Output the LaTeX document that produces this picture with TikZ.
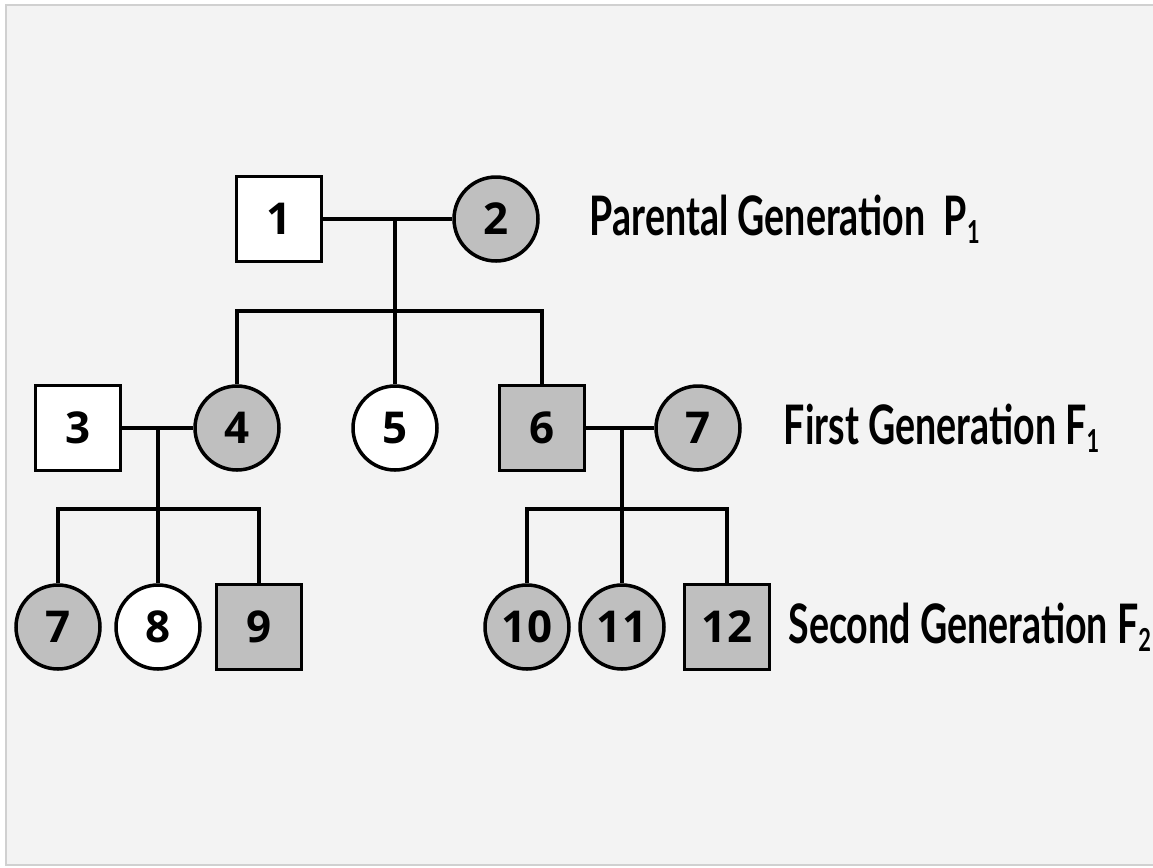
\documentclass[tikz,border=0pt]{standalone}
\usepackage{fontspec}
\setmainfont{Open Sans}
\newfontfamily\genfont[FakeStretch=0.69]{Lato}
\usetikzlibrary{positioning}
\definecolor{cfill}{HTML}{BFBFBF}
\definecolor{cpaper}{HTML}{F3F3F3}
\definecolor{cframe}{HTML}{D0D0D0}
\newcommand{\gensub}[1]{\raisebox{-0.3ex}{\fontsize{18}{18}\selectfont #1}}
\tikzset{
  every picture/.style={line width=2.5pt},
  male/.style={draw, rectangle, line width=2pt, fill=#1, minimum size=1.7cm, inner sep=0pt, font=\bfseries\fontsize{25}{25}\selectfont},
  male/.default=white,
  female/.style={draw, circle, line width=2pt, fill=#1, minimum size=1.68cm, inner sep=0pt, font=\bfseries\fontsize{25}{25}\selectfont},
  female/.default=white,
  gen/.style={font=\genfont\bfseries\fontsize{31}{31}\selectfont, inner sep=0pt, anchor=west},
}

\begin{document}
\begin{tikzpicture}[x=0.02cm, y=-0.02cm]
  \useasboundingbox (0,0) rectangle (1153,867);
  \fill[white] (0,0) rectangle (1153,867);
  \filldraw[fill=cpaper, draw=cframe, line width=1.2pt] (6,5) rectangle (1170,865);

  % parents
  \node[male] (p1) at (279,219) {1};
  \node[female=cfill] (p2) at (496,219) {2};
  \node[gen, right=0.96cm of p2] (lblp) {Parental Generation\ \ P\gensub{1}};

  % first generation
  \node[male] (m3) at (78,428) {3};
  \node[female=cfill] (f4) at (237,428) {4};
  \node[female] (f5) at (395,428) {5};
  \node[male=cfill] (m6) at (542,428) {6};
  \node[female=cfill] (f7) at (698,428) {7};
  \node[gen, right=0.8cm of f7] (lblf) {First Generation F\gensub{1}};

  % second generation
  \node[female=cfill] (g7) at (58,627) {7};
  \node[female] (g8) at (158,627) {8};
  \node[male=cfill] (g9) at (259,627) {9};
  \node[female=cfill] (g10) at (527,627) {10};
  \node[female=cfill] (g11) at (622,627) {11};
  \node[male=cfill] (g12) at (727,627) {12};
  \node[gen, right=0.3cm of g12] (lbls) {Second Generation F\gensub{2}};

  % couples and their child bars
  \coordinate (c12) at (395,219);
  \coordinate (b12) at (395,311);
  \coordinate (c34) at (158,428);
  \coordinate (b34) at (158,509);
  \coordinate (c67) at (622,428);
  \coordinate (b67) at (622,509);

  \draw (p1) -- (p2);
  \draw (c12) -- (b12);
  \draw (f4.north) -- (f4.north |- b12) -- (m6.north |- b12) -- (m6.north);
  \draw (b12) -- (f5.north);

  \draw (m3) -- (f4);
  \draw (c34) -- (b34);
  \draw (g7.north) -- (g7.north |- b34) -- (g9.north |- b34) -- (g9.north);
  \draw (b34) -- (g8.north);

  \draw (m6) -- (f7);
  \draw (c67) -- (b67);
  \draw (g10.north) -- (g10.north |- b67) -- (g12.north |- b67) -- (g12.north);
  \draw (b67) -- (g11.north);
\end{tikzpicture}
\end{document}
